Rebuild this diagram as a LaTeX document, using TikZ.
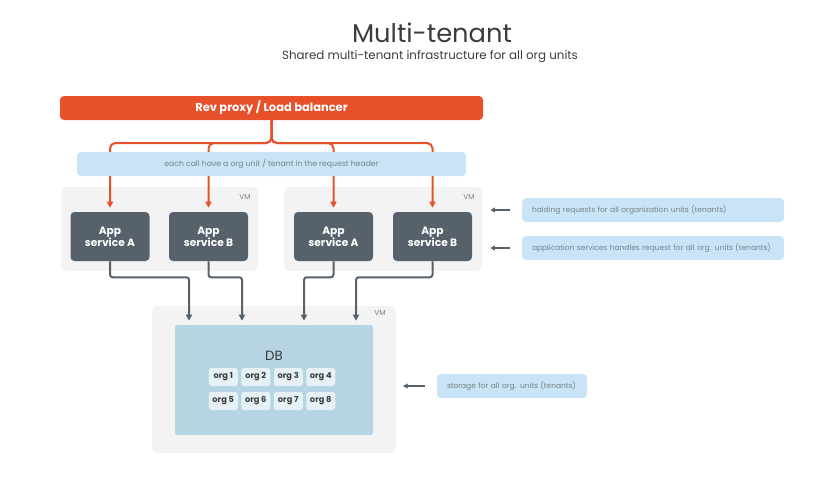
\documentclass[tikz,border=0pt]{standalone}
\usepackage{fontspec}
\setmainfont{Poppins}
\usetikzlibrary{arrows.meta,positioning}
\definecolor{proxyorange}{RGB}{232,80,42}
\definecolor{appslate}{RGB}{86,97,107}
\definecolor{vmgray}{RGB}{243,243,243}
\definecolor{dbblue}{RGB}{183,212,228}
\definecolor{orgblue}{RGB}{229,240,247}
\definecolor{noteblue}{RGB}{200,228,246}
\definecolor{notetext}{RGB}{118,130,138}
\definecolor{titlegray}{RGB}{60,60,60}

\begin{document}
\begin{tikzpicture}[x=0.75pt, y=-0.75pt, >=Stealth]
  \useasboundingbox (0,0) rectangle (840,480);

  \tikzset{
    vmbox/.style={fill=vmgray, rounded corners=4pt, inner sep=0pt},
    vmlabel/.style={font=\fontsize{5.5}{6}\selectfont, text=appslate!80},
    appbox/.style={fill=appslate, rounded corners=3pt, text=white,
                   font=\fontsize{8}{9}\selectfont\bfseries, align=center,
                   minimum width=59.25pt, minimum height=36.75pt, inner sep=0pt},
    notebox/.style={fill=noteblue, rounded corners=3pt, text=notetext,
                    font=\fontsize{5.6}{6}\selectfont, minimum height=18pt,
                    inner xsep=7.5pt, inner ysep=0pt, align=left},
    orgbox/.style={fill=orgblue, rounded corners=2pt, text=titlegray,
                   font=\fontsize{6.2}{7}\selectfont\bfseries,
                   minimum width=21.75pt, minimum height=13.5pt, inner sep=0pt},
    reqline/.style={draw=proxyorange, line width=1.5pt, rounded corners=4pt,
                    -{Triangle[length=4.5pt,width=4.5pt]}, shorten >=3pt},
    dbline/.style={draw=appslate, line width=1.5pt, rounded corners=2pt,
                   -{Triangle[length=4.5pt,width=4.5pt]}, shorten >=3pt},
    noteline/.style={draw=appslate, line width=1.2pt,
                     {Triangle[length=3.5pt,width=3.5pt]}-}
  }

  % heading
  \node[font=\fontsize{19.3}{21}\selectfont, text=titlegray] (title) at (432,33) {Multi-tenant};
  \node[font=\fontsize{8.9}{10}\selectfont, text=titlegray] (subtitle) at (430,57)
    {Shared multi-tenant infrastructure for all org units};

  % proxy bar
  \node[fill=proxyorange, rounded corners=3pt, text=white,
        font=\fontsize{8.6}{9}\selectfont\bfseries,
        minimum width=317.25pt, minimum height=18pt, inner sep=0pt]
    (proxy) at (271.5,108) {Rev proxy / Load balancer};

  % VMs with app services
  \node[vmbox, minimum width=147.75pt, minimum height=63pt] (vmL) at (159.5,229) {};
  \node[vmbox, minimum width=148.5pt, minimum height=63pt]  (vmR) at (383,229) {};
  \node[vmlabel] (vmLlabel) at (245,197) {VM};
  \node[vmlabel] (vmRlabel) at (469,197) {VM};

  \node[appbox] (appLA) at (110,236.5)   {App\\service A};
  \node[appbox] (appLB) at (208.5,236.5) {App\\service B};
  \node[appbox] (appRA) at (333.5,236.5) {App\\service A};
  \node[appbox] (appRB) at (432.5,236.5) {App\\service B};

  % DB VM
  \node[vmbox, minimum width=183pt, minimum height=110.25pt] (vmDB) at (274,379.5) {};
  \node[vmlabel] (vmDBlabel) at (380,313) {VM};
  \node[fill=dbblue, rounded corners=2pt, minimum width=148.5pt,
        minimum height=82.5pt, inner sep=0pt] (db) at (274,380) {};
  \node[font=\fontsize{10}{11}\selectfont, text=titlegray] (dblabel) at (274,356) {DB};
  \foreach \i in {1,...,4} {
    \node[orgbox] (org\i) at ({272+(\i-2.5)*32.5},377) {org \i};
    \pgfmathtruncatemacro{\j}{\i+4}
    \node[orgbox] (org\j) at ({272+(\i-2.5)*32.5},401) {org \j};
  }

  % requests from the proxy
  \coordinate (split) at (271.5,143);
  \foreach \app in {appLA,appLB,appRA,appRB}
    \draw[reqline] (proxy.south) -- (split) -| (\app.north);

  % banner on top of the request lines
  \node[fill=noteblue, rounded corners=3pt, text=notetext,
        font=\fontsize{5.8}{6}\selectfont, minimum width=291.75pt,
        minimum height=18pt, inner sep=0pt]
    (banner) at (271.5,164) {each call have a org unit / tenant in the request header};

  % app services to DB
  \path (db.north) ++(-85,0) coordinate (in1);
  \path (db.north) ++(-32,0) coordinate (in2);
  \path (db.north) ++(30,0)  coordinate (in3);
  \path (db.north) ++(82,0)  coordinate (in4);
  \draw[dbline] (appLA.south) -- ++(0,16) -| (in1);
  \draw[dbline] (appLB.south) -- ++(0,16) -| (in2);
  \draw[dbline] (appRA.south) -- ++(0,16) -| (in3);
  \draw[dbline] (appRB.south) -- ++(0,16) -| (in4);

  % side notes
  \node[notebox, text width=181.5pt] (note1) at (653,210)
    {halding requests for all organization units (tenants)};
  \node[notebox, text width=181.5pt] (note2) at (653,248)
    {application services handles request for all org. units (tenants)};
  \node[notebox, text width=97.5pt] (note3) at (512,386)
    {storage for all org. units (tenants)};
  \draw[noteline, shorten <=6pt, shorten >=9pt] (note1.west -| vmR.east) -- (note1.west);
  \draw[noteline, shorten <=6pt, shorten >=9pt] (note2.west -| vmR.east) -- (note2.west);
  \draw[noteline, shorten <=5pt, shorten >=9pt] (note3.west -| vmDB.east) -- (note3.west);

\end{tikzpicture}
\end{document}
